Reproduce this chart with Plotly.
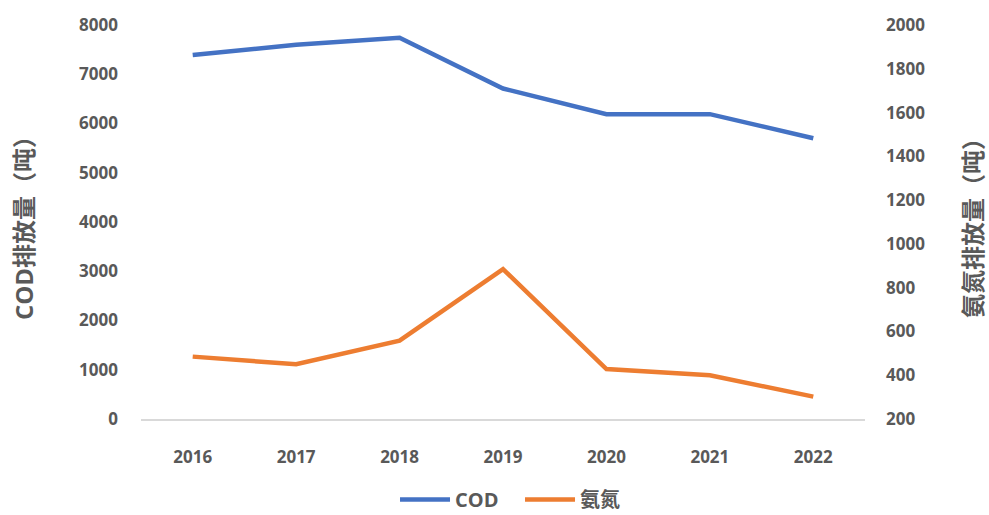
import plotly.graph_objects as go

years = ["2016", "2017", "2018", "2019", "2020", "2021", "2022"]
cod = [7390, 7600, 7740, 6710, 6190, 6190, 5700]
nh3n = [485, 450, 558, 885, 428, 400, 302]

FONT = "Open Sans, Noto Sans CJK SC, sans-serif"
GRAY = "#595959"

fig = go.Figure()
fig.add_trace(go.Scatter(x=years, y=cod, name="COD", mode="lines",
                         line=dict(color="#4472C4", width=4.5)))
fig.add_trace(go.Scatter(x=years, y=nh3n, name="氨氮", mode="lines", yaxis="y2",
                         line=dict(color="#ED7D31", width=4.5)))

fig.update_layout(
    width=989, height=515,
    margin=dict(l=141, r=124, t=25, b=96, autoexpand=False),
    paper_bgcolor="white", plot_bgcolor="white",
    font=dict(family=FONT, color=GRAY, size=17, weight="bold"),
    showlegend=True,
    legend=dict(orientation="h", x=0.5235, xanchor="center", yref="container",
                y=0.03, yanchor="middle", itemwidth=50,
                entrywidth=60, entrywidthmode="pixels",
                font=dict(size=20, weight="bold", color=GRAY)),
    xaxis=dict(type="category", range=[-0.5, 6.5], showgrid=False, showline=True,
               linecolor="#d9d9d9", linewidth=1.5, ticks="", ticklabelstandoff=22,
               tickfont=dict(size=17, weight="bold", color=GRAY)),
    yaxis=dict(range=[0, 8000], dtick=1000, showgrid=False, zeroline=False,
               ticks="", ticklabelstandoff=22,
               tickfont=dict(size=17, weight="bold", color=GRAY),
               title=dict(text="COD排放量（吨）", standoff=38,
                          font=dict(size=24, weight="bold", color=GRAY))),
    yaxis2=dict(range=[200, 2000], dtick=200, overlaying="y", side="right",
                showgrid=False, zeroline=False, ticks="", ticklabelstandoff=20,
                tickfont=dict(size=17, weight="bold", color=GRAY),
                title=dict(text="氨氮排放量（吨）", standoff=42,
                           font=dict(size=24, weight="bold", color=GRAY))),
)

fig.write_html("out.html")
